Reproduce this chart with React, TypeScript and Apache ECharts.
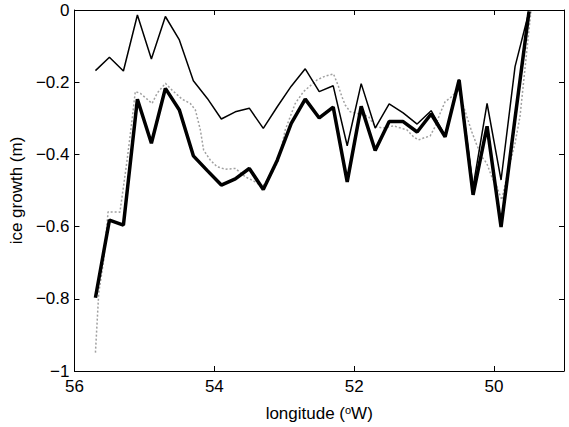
import React, { useEffect, useRef } from "react";
import * as echarts from "echarts";

// Longitude (°W) of the model points
const lon = [
  55.7, 55.5, 55.3, 55.1, 54.9, 54.7, 54.5, 54.3, 54.1, 53.9, 53.7, 53.5, 53.3, 53.1, 52.9, 52.7,
  52.5, 52.3, 52.1, 51.9, 51.7, 51.5, 51.3, 51.1, 50.9, 50.7, 50.5, 50.3, 50.1, 49.9, 49.7, 49.5,
];
// thick line
const thickVals = [
  -0.797, -0.582, -0.596, -0.247, -0.369, -0.217, -0.277, -0.404, -0.445, -0.485, -0.468, -0.439,
  -0.497, -0.416, -0.314, -0.247, -0.299, -0.269, -0.476, -0.267, -0.389, -0.309, -0.309, -0.338,
  -0.288, -0.351, -0.194, -0.512, -0.322, -0.601, -0.3, -0.004,
];
// thin line
const thinVals = [
  -0.168, -0.131, -0.169, -0.014, -0.136, -0.018, -0.083, -0.196, -0.245, -0.302, -0.282, -0.272,
  -0.328, -0.268, -0.211, -0.163, -0.226, -0.21, -0.376, -0.204, -0.327, -0.26, -0.285, -0.316,
  -0.279, -0.348, -0.192, -0.49, -0.259, -0.471, -0.157, -0.004,
];
// gray dotted line (finer resolution)
const grayLon = [
  55.7, 55.653, 55.581, 55.519, 55.35, 55.25, 55.18, 55.13, 55.057, 54.961, 54.89, 54.819, 54.7,
  54.604, 54.461, 54.343, 54.271, 54.2, 54.153, 54.057, 53.961, 53.843, 53.7, 53.557, 53.414,
  53.314, 53.176, 53.081, 52.986, 52.843, 52.724, 52.629, 52.533, 52.414, 52.296, 52.224, 52.176,
  52.129, 52.057, 51.796, 51.7, 51.586, 51.439, 51.247, 51.153, 51.081, 50.986, 50.914, 50.843,
  50.771, 50.7, 50.604, 50.514, 50.39, 50.319, 50.247, 50.176, 50.104, 50.033, 49.961, 49.89,
  49.796, 49.7, 49.629, 49.471,
];
const grayVals = [
  -0.949, -0.784, -0.692, -0.559, -0.56, -0.42, -0.31, -0.226, -0.231, -0.247, -0.259, -0.231,
  -0.203, -0.222, -0.247, -0.259, -0.277, -0.332, -0.388, -0.416, -0.434, -0.441, -0.439, -0.462,
  -0.476, -0.49, -0.452, -0.416, -0.332, -0.259, -0.226, -0.21, -0.194, -0.183, -0.177, -0.212,
  -0.24, -0.263, -0.282, -0.295, -0.323, -0.327, -0.321, -0.332, -0.351, -0.36, -0.353, -0.349,
  -0.323, -0.286, -0.254, -0.24, -0.22, -0.295, -0.337, -0.374, -0.406, -0.425, -0.462, -0.489,
  -0.526, -0.443, -0.369, -0.295, 0,
];
const xTicks = [56, 54, 52, 50];

const FONT = "'Liberation Sans', Arial, Helvetica, sans-serif";

export default function App() {
  const ref = useRef<HTMLDivElement>(null);
  useEffect(() => {
    document.body.style.margin = "0";
    if (!ref.current) return;
    const chart = echarts.init(ref.current, null, { renderer: "svg" });
    const axisLine = { show: true, onZero: false, lineStyle: { color: "#000", width: 1 } };
    chart.setOption({
      animation: false,
      backgroundColor: "#fff",
      grid: { left: 74, right: 5, top: 10, bottom: 56, containLabel: false },
      xAxis: [
        {
          type: "value",
          min: 49,
          max: 56,
          inverse: true,
          position: "bottom",
          axisLine,
          axisTick: { show: true, inside: true, length: 5, customValues: xTicks, lineStyle: { color: "#000" } },
          axisLabel: {
            customValues: xTicks,
            color: "#000",
            fontSize: 17,
            fontFamily: FONT,
            margin: 7,
          },
          splitLine: { show: false },
          name: "longitude ({sup|o}W)",
          nameLocation: "middle",
          nameGap: 33,
          nameTextStyle: {
            color: "#000",
            fontSize: 17,
            fontFamily: FONT,
            rich: {
              sup: { fontSize: 11, fontFamily: FONT, color: "#000", verticalAlign: "top", padding: [0, 0, 7, 0] },
            },
          },
        },
        {
          type: "value",
          min: 49,
          max: 56,
          inverse: true,
          position: "top",
          axisLine,
          axisTick: { show: true, inside: true, length: 5, customValues: xTicks, lineStyle: { color: "#000" } },
          axisLabel: { show: false },
          splitLine: { show: false },
        },
      ],
      yAxis: [
        {
          type: "value",
          min: -1,
          max: 0,
          interval: 0.2,
          position: "left",
          axisLine,
          axisTick: { show: true, inside: true, length: 5, lineStyle: { color: "#000" } },
          axisLabel: {
            color: "#000",
            fontSize: 17,
            fontFamily: FONT,
            margin: 5,
            formatter: (v: number) => {
              if (Math.abs(v) < 1e-9) return "0";
              if (Math.abs(v + 1) < 1e-9) return "\u22121";
              return "\u2212" + Math.abs(v).toFixed(1);
            },
          },
          splitLine: { show: false },
          name: "ice growth (m)",
          nameLocation: "middle",
          nameGap: 42,
          nameTextStyle: { color: "#000", fontSize: 17, fontFamily: FONT },
        },
        {
          type: "value",
          min: -1,
          max: 0,
          interval: 0.2,
          position: "right",
          axisLine,
          axisTick: { show: true, inside: true, length: 5, lineStyle: { color: "#000" } },
          axisLabel: { show: false },
          splitLine: { show: false },
        },
      ],
      series: [
        {
          type: "line",
          name: "gray",
          data: grayLon.map((x, i) => [x, grayVals[i]]),
          showSymbol: false,
          symbol: "none",
          lineStyle: { color: "#a0a0a0", width: 1.5, type: [2, 2] },
          z: 1,
        },
        {
          type: "line",
          name: "thin",
          data: lon.map((x, i) => [x, thinVals[i]]),
          showSymbol: false,
          symbol: "none",
          lineStyle: { color: "#000", width: 1.5 },
          z: 2,
        },
        {
          type: "line",
          name: "thick",
          data: lon.map((x, i) => [x, thickVals[i]]),
          showSymbol: false,
          symbol: "none",
          lineStyle: { color: "#000", width: 3.5 },
          z: 3,
        },
      ],
    });
    return () => chart.dispose();
  }, []);
  return <div ref={ref} style={{ width: 569, height: 427 }} />;
}
